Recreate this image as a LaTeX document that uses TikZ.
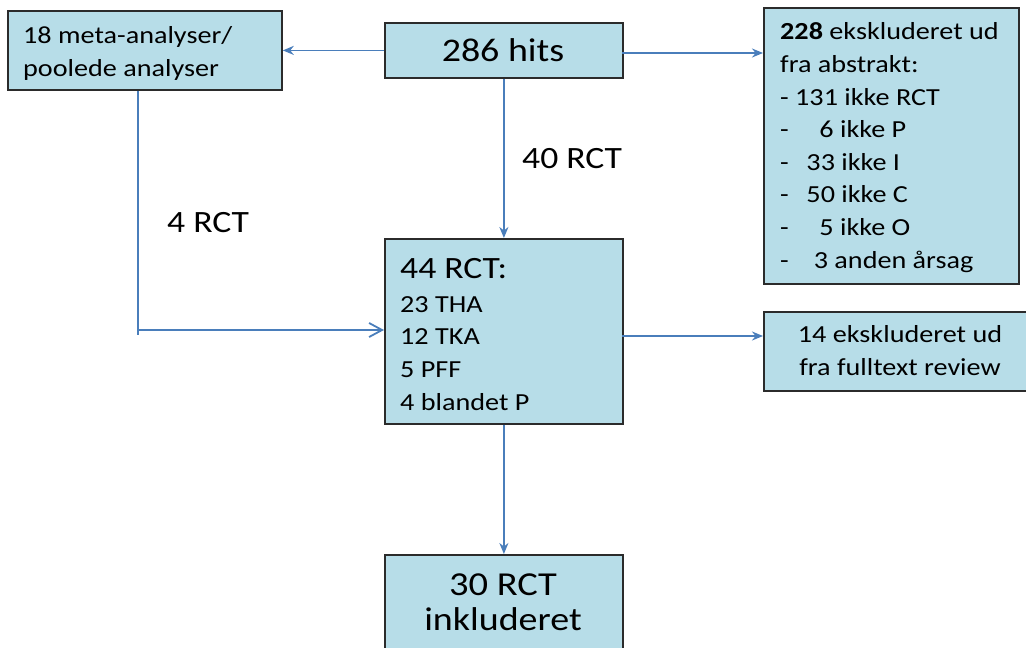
\documentclass[tikz,border=0pt]{standalone}
\usepackage{fontspec}
\setmainfont{Carlito}[FakeStretch=1.15]
\usetikzlibrary{arrows.meta}
\definecolor{boxfill}{HTML}{B7DDE8}
\definecolor{boxline}{HTML}{2B2B2B}
\definecolor{conncol}{HTML}{4A7EBB}
\tikzset{
  x=1pt, y=-1pt,
  box/.style={draw=boxline, fill=boxfill, line width=1.8pt, inner sep=0pt},
  txt/.style={inner sep=0pt, text=black},
  small/.style={font=\fontsize{24.5}{32.6}\selectfont},
  mid/.style={font=\fontsize{31}{36}\selectfont},
  big/.style={font=\fontsize{33}{35}\selectfont},
  conn/.style={draw=conncol, line width=1.8pt, -{Stealth[length=11pt,width=9pt]}},
  openconn/.style={draw=conncol, line width=1.8pt, -{Straight Barb[length=13pt,width=14pt,line width=1.8pt]}},
  plain/.style={draw=conncol, line width=1.8pt},
}
\begin{document}
\begin{tikzpicture}
\useasboundingbox (0,0) rectangle (1026,648);
\clip (0,0) rectangle (1026,648);
% boxes
\node[box, anchor=north west, minimum width=274pt, minimum height=79pt] (meta) at (7,10) {};
\node[box, anchor=north west, minimum width=238pt, minimum height=55pt] (hits) at (384,22) {};
\node[box, anchor=north west, minimum width=255pt, minimum height=276pt] (ex228) at (763,7) {};
\node[box, anchor=north west, minimum width=238pt, minimum height=185pt] (rct44) at (384,238) {};
\node[box, anchor=north west, minimum width=275pt, minimum height=79pt] (ex14) at (763,311) {};
\node[box, anchor=north west, minimum width=238pt, minimum height=110pt] (inc) at (384,554) {};
% texts (anchored at the baseline of their last line)
\node[txt, small, align=left, anchor=base west] (metat) at (23,76) {18 meta-analyser/\\poolede analyser};
\node[txt, big, anchor=base] (hitst) at (503,61) {286 hits};
\node[txt, small, align=left, anchor=base west] (ex228t) at (780,268) {\textbf{228} ekskluderet ud\\fra abstrakt:\\- 131 ikke RCT\\-\hspace{1.25em}6 ikke P\\-\hspace{0.72em}33 ikke I\\-\hspace{0.72em}50 ikke C\\-\hspace{1.25em}5 ikke O\\-\hspace{1.02em}3 anden årsag};
\node[txt, mid, anchor=base west] (rct44h) at (400,278) {44 RCT:};
\node[txt, small, align=left, anchor=base west] (rct44t) at (400,410) {23 THA\\12 TKA\\5 PFF\\4 blandet P};
\node[txt, small, align=center, anchor=base] (ex14t) at (900,375) {14 ekskluderet ud\\fra fulltext review};
\node[txt, big, align=center, anchor=base] (inct) at (503,630) {\fontsize{33.5}{35}\selectfont 30 RCT\\inkluderet};
\node[txt, mid, anchor=base west] (l40) at (522,168) {40 RCT};
\node[txt, mid, anchor=base west] (l4) at (167,232) {4 RCT};
% connectors
\coordinate (bend) at (138,330);
\coordinate (tail) at (138,335);
\coordinate (hitsR) at (622,53);
\coordinate (r44R) at (622,336);
\draw[conn] (hits.west) -- (meta.east |- hits.west);
\draw[conn] (hitsR) -- (ex228.west |- hitsR);
\draw[conn] (hits.south) -- (rct44.north);
\draw[plain] (meta.south -| bend) -- (tail);
\draw[openconn] (bend) -- (rct44.west |- bend);
\draw[conn] (r44R) -- (ex14.west |- r44R);
\draw[conn] (rct44.south) -- (inc.north);
\end{tikzpicture}
\end{document}
